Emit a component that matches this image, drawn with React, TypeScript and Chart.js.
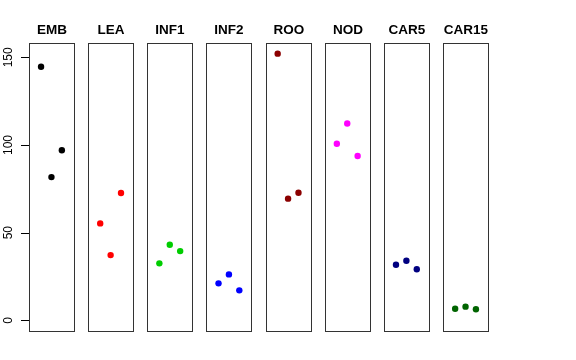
import React, { useEffect, useRef } from "react";
import { Chart, registerables } from "chart.js";

Chart.register(...registerables);

const panels = ["EMB", "LEA", "INF1", "INF2", "ROO", "NOD", "CAR5", "CAR15"];
const positions = [1, 2, 3];
const EMB = [144.6, 81.7, 97.0];
const LEA = [55.3, 37.2, 72.6];
const INF1 = [32.5, 43.1, 39.5];
const INF2 = [21.1, 26.2, 17.1];
const ROO = [152.1, 69.4, 72.8];
const NOD = [100.7, 112.3, 93.7];
const CAR5 = [31.7, 34.0, 29.1];
const CAR15 = [6.6, 7.8, 6.3];
const seriesValues = [EMB, LEA, INF1, INF2, ROO, NOD, CAR5, CAR15];
const colors = ["#000000", "#FF0000", "#00CD00", "#0000FF", "#8B0000", "#FF00FF", "#000080", "#006400"];
const yTicks = [0, 50, 100, 150];

// per-panel local x range [0,4] padded by 4%, panels separated by a gap
const PAD = 0.16;
const STEP = 5.69;
const YMIN = -6.08;
const YMAX = 158.18;

const panelPlugin = {
  id: "panels",
  beforeDatasetsDraw(chart: any) {
    const { ctx, chartArea, scales } = chart;
    const xs = scales.x;
    ctx.save();
    ctx.strokeStyle = "#333333";
    ctx.lineWidth = 1;
    panels.forEach((name, i) => {
      const l = Math.round(xs.getPixelForValue(i * STEP - PAD)) + 0.5;
      const r = Math.round(xs.getPixelForValue(i * STEP + 4 + PAD)) + 0.5;
      const t = Math.round(chartArea.top) + 0.5;
      const b = Math.round(chartArea.bottom) + 0.5;
      ctx.strokeRect(l, t, r - l, b - t);
      ctx.fillStyle = "#000000";
      ctx.font = "bold 13.5px 'Liberation Sans', Arial, sans-serif";
      ctx.textAlign = "center";
      ctx.textBaseline = "alphabetic";
      ctx.fillText(name, (l + r) / 2, 34.3);
    });
    ctx.restore();
  },
  afterDraw(chart: any) {
    const { ctx, scales } = chart;
    const xs = scales.x;
    const ys = scales.y;
    ctx.save();
    const axisX = Math.round(xs.getPixelForValue(-PAD));
    ctx.fillStyle = "#000000";
    ys.ticks.forEach((tk: any) => {
      const y = Math.round(ys.getPixelForValue(tk.value));
      ctx.fillRect(axisX - 8, y, 8, 1);
    });
    ctx.font = "12px 'Liberation Sans', Arial, sans-serif";
    ctx.textAlign = "center";
    ctx.textBaseline = "middle";
    ys.ticks.forEach((tk: any) => {
      const y = ys.getPixelForValue(tk.value);
      ctx.save();
      ctx.translate(9, y);
      ctx.rotate(-Math.PI / 2);
      ctx.fillText(String(tk.value), 0, 0);
      ctx.restore();
    });
    ctx.restore();
  },
};

export default function App() {
  const ref = useRef<HTMLCanvasElement>(null);
  useEffect(() => {
    if (!ref.current) return;
    const datasets = seriesValues.map((vals, i) => ({
      label: panels[i],
      data: vals.map((v, j) => ({ x: i * STEP + positions[j], y: v })),
      backgroundColor: colors[i],
      borderColor: colors[i],
      pointRadius: 3.2,
      pointBorderWidth: 0,
      showLine: false,
    }));
    const chart = new Chart(ref.current, {
      type: "scatter",
      data: { datasets },
      plugins: [panelPlugin],
      options: {
        animation: false,
        responsive: false,
        events: [],
        layout: { padding: { left: 0, top: 43, right: 88, bottom: 29 } },
        plugins: { legend: { display: false }, tooltip: { enabled: false } },
        scales: {
          x: {
            type: "linear",
            display: false,
            min: -PAD,
            max: 7 * STEP + 4 + PAD,
          },
          y: {
            type: "linear",
            min: YMIN,
            max: YMAX,
            afterBuildTicks: (scale: any) => {
              scale.ticks = yTicks.map((v) => ({ value: v }));
            },
            afterFit: (scale: any) => {
              scale.width = 29;
            },
            border: { display: false },
            grid: { display: false },
            ticks: { display: false },
          },
        },
      },
    });
    return () => chart.destroy();
  }, []);
  return (
    <div style={{ position: "fixed", left: 0, top: 0, width: 576, height: 360, background: "#fff" }}>
      <canvas ref={ref} width={576} height={360} style={{ width: 576, height: 360 }} />
    </div>
  );
}
